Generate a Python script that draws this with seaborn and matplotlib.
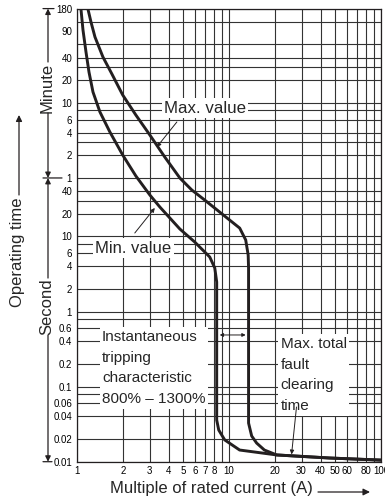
import matplotlib
matplotlib.use("Agg")
import matplotlib.pyplot as plt
import matplotlib.transforms as mtransforms
from matplotlib.ticker import NullFormatter
import seaborn as sns

# ---------------- data ----------------
# Operating time in seconds versus multiple of rated current
max_current = [1.17, 1.181, 1.236, 1.313, 1.481, 1.697, 2.0, 2.44, 3.015, 3.78,
               4.75, 5.69, 6.92, 10.1, 11.76, 12.88, 13.37, 13.45, 13.45,
               14.1, 15.2, 17.1, 20.6, 45.8, 100]
max_time = [12000, 10600, 7160, 4520, 2449, 1454, 762, 413, 224, 114,
            59.9, 41.5, 30.5, 16.5, 12.9, 8.96, 5.65, 3.8, 0.0327,
            0.022, 0.0177, 0.0143, 0.0123, 0.0112, 0.0105]

min_current = [1.06, 1.062, 1.095, 1.146, 1.199, 1.274, 1.416, 1.647, 2.0, 2.44,
               3.015, 3.51, 4.75, 5.95, 7.47, 8.06, 8.3, 8.3, 8.56, 9.37,
               11.75, 20.6, 45.8, 100]
min_time = [12000, 10600, 5600, 2852, 1545, 837, 453, 245, 121, 63.7,
            35.6, 24.6, 12.55, 8.42, 5.32, 3.80, 2.47, 0.0359, 0.0264, 0.0195,
            0.0143, 0.0123, 0.0112, 0.0105]

x_tick_values = [1, 2, 3, 4, 5, 6, 7, 8, 10, 20, 30, 40, 50, 60, 80, 100]
x_tick_labels = ["1", "2", "3", "4", "5", "6", "7", "8", "10", "20", "30",
                 "40", "50", "60", "80", "100"]
x_grid_values = [1, 2, 3, 4, 5, 6, 7, 8, 9, 10, 20, 30, 40, 50, 60, 70, 80, 90, 100]

second_tick_values = [0.01, 0.02, 0.04, 0.06, 0.1, 0.2, 0.4, 0.6, 1, 2, 4, 6, 10, 20, 40]
second_tick_labels = ["0.01", "0.02", "0.04", "0.06", "0.1", "0.2", "0.4", "0.6",
                      "1", "2", "4", "6", "10", "20", "40"]
minute_tick_values = [1, 2, 4, 6, 10, 20, 40, 90, 180]
minute_tick_labels = ["1", "2", "4", "6", "10", "20", "40", "90", "180"]

second_grid_values = [0.01, 0.02, 0.04, 0.06, 0.08, 0.1, 0.2, 0.4, 0.6, 0.8,
                      1, 2, 4, 6, 8, 10, 20, 30, 40]
minute_grid_values = [1, 2, 3, 4, 6, 8, 10, 20, 30, 40, 60, 120, 180]

# ---------------- style ----------------
sns.set_style("white")
plt.rcParams["font.family"] = ["Liberation Sans", "DejaVu Sans"]
INK = "#231f20"
GRID = "#333333"

W, H = 385, 499
fig = plt.figure(figsize=(W / 100, H / 100), dpi=100)
ax_left, ax_right, ax_top, ax_bottom = 77, 381, 8.6, 461.7
ax = fig.add_axes([ax_left / W, 1 - ax_bottom / H,
                   (ax_right - ax_left) / W, (ax_bottom - ax_top) / H])

sns.lineplot(x=max_current, y=max_time, sort=False, estimator=None,
             color=INK, lw=2.1, ax=ax, zorder=5)
sns.lineplot(x=min_current, y=min_time, sort=False, estimator=None,
             color=INK, lw=2.1, ax=ax, zorder=5)

ax.set_xscale("log")
ax.set_yscale("log")
ax.set_xlim(1, 100)
ax.set_ylim(0.01, 180 * 60)

# ticks / labels
ax.xaxis.remove_overlapping_locs = False
ax.yaxis.remove_overlapping_locs = False
ax.set_xticks(x_tick_values)
ax.set_xticklabels(x_tick_labels)
ax.set_xticks(x_grid_values, minor=True)
ax.xaxis.set_minor_formatter(NullFormatter())

y_ticks = second_tick_values + [m * 60 for m in minute_tick_values]
y_labels = second_tick_labels + minute_tick_labels
ax.set_yticks(y_ticks)
ax.set_yticklabels(y_labels)
ax.set_yticks(second_grid_values + [m * 60 for m in minute_grid_values], minor=True)
ax.yaxis.set_minor_formatter(NullFormatter())

ax.tick_params(which="both", length=0, labelsize=7, colors="black")
ax.tick_params(axis="y", pad=3.5)
ax.tick_params(axis="x", pad=3)
ax.grid(False, which="major")
ax.grid(True, which="minor", color=GRID, lw=0.8)
ax.set_axisbelow(True)
for s in ax.spines.values():
    s.set_color(INK)
    s.set_linewidth(0.9)
ax.set_xlabel("")
ax.set_ylabel("")

# ---------------- annotations inside plot ----------------
box = dict(facecolor="white", edgecolor="none", pad=1.6)
arrow_thin = dict(arrowstyle="-|>", lw=0.7, color=INK, shrinkA=0, shrinkB=0,
                  mutation_scale=6)

ax.text(6.93, 512, "Max. value", fontsize=12.2, ha="center", va="center",
        bbox=box, zorder=4)
ax.annotate("", xy=(3.35, 155), xytext=(4.54, 334), arrowprops=arrow_thin, zorder=6)

ax.text(2.35, 7.0, "Min. value", fontsize=12, ha="center", va="center",
        bbox=box, zorder=4)
ax.annotate("", xy=(3.25, 23.9), xytext=(2.40, 11.1), arrowprops=arrow_thin, zorder=6)

ax.text(1.459, 0.177, "Instantaneous\ntripping\ncharacteristic\n800% \u2013 1300%",
        fontsize=11, ha="left", va="center", linespacing=1.62, bbox=box, zorder=4)

ax.text(21.85, 0.1427, "Max. total\nfault\nclearing\ntime",
        fontsize=11, ha="left", va="center", linespacing=1.62, bbox=box, zorder=4)
ax.annotate("", xy=(25.8, 0.0125), xytext=(27.8, 0.0535), arrowprops=arrow_thin, zorder=6)

ax.annotate("", xy=(12.87, 0.487), xytext=(8.69, 0.487),
            arrowprops=dict(arrowstyle="<|-|>", lw=0.7, color=INK, shrinkA=0,
                            shrinkB=0, mutation_scale=5), zorder=6)

# ---------------- left side brackets ----------------
blend = mtransforms.blended_transform_factory(fig.transFigure, ax.transData)
coords = ("figure pixels", "data")
head = dict(arrowstyle="-|>", lw=0.9, color=INK, shrinkA=0, shrinkB=0,
            mutation_scale=8)
plain = dict(arrowstyle="-", lw=0.9, color=INK, shrinkA=0, shrinkB=0)


def seg(x0, y0, x1, y1, props):
    ax.annotate("", xy=(x1, y1), xytext=(x0, y0), xycoords=coords,
                textcoords=coords, arrowprops=props, annotation_clip=False)


bx = 48
ax.text(47 / W, 961, "Minute", transform=blend, rotation=90, fontsize=12,
        ha="center", va="center")
seg(bx, 2100, bx, 10800, head)
seg(bx, 440, bx, 60, head)
ax.text(47 / W, 1.166, "Second", transform=blend, rotation=90, fontsize=12,
        ha="center", va="center")
seg(bx, 2.79, bx, 60, head)
seg(bx, 0.487, bx, 0.01, head)
seg(43, 10800, 54, 10800, plain)
seg(43, 60, 62, 60, plain)
seg(43, 0.01, 52, 0.01, plain)

# Operating time
fig.text(18 / W, 1 - 252 / H, "Operating time", rotation=90, fontsize=12,
         ha="center", va="center")
fig_head = dict(arrowstyle="-|>", lw=0.9, color=INK, shrinkA=0, shrinkB=0,
                mutation_scale=9)
fig.add_artist(matplotlib.patches.FancyArrowPatch(
    (19, H - 195), (19, H - 115), transform=None, **fig_head))

# x label with arrow
fig.text(110 / W, 1 - 488 / H, "Multiple of rated current (A)", fontsize=12,
         ha="left", va="center")
fig.add_artist(matplotlib.patches.FancyArrowPatch(
    (318, H - 492), (370, H - 492), transform=None,
    arrowstyle="-|>", lw=0.9, color=INK, shrinkA=0, shrinkB=0, mutation_scale=10))

fig.savefig("out.png", dpi=100)
